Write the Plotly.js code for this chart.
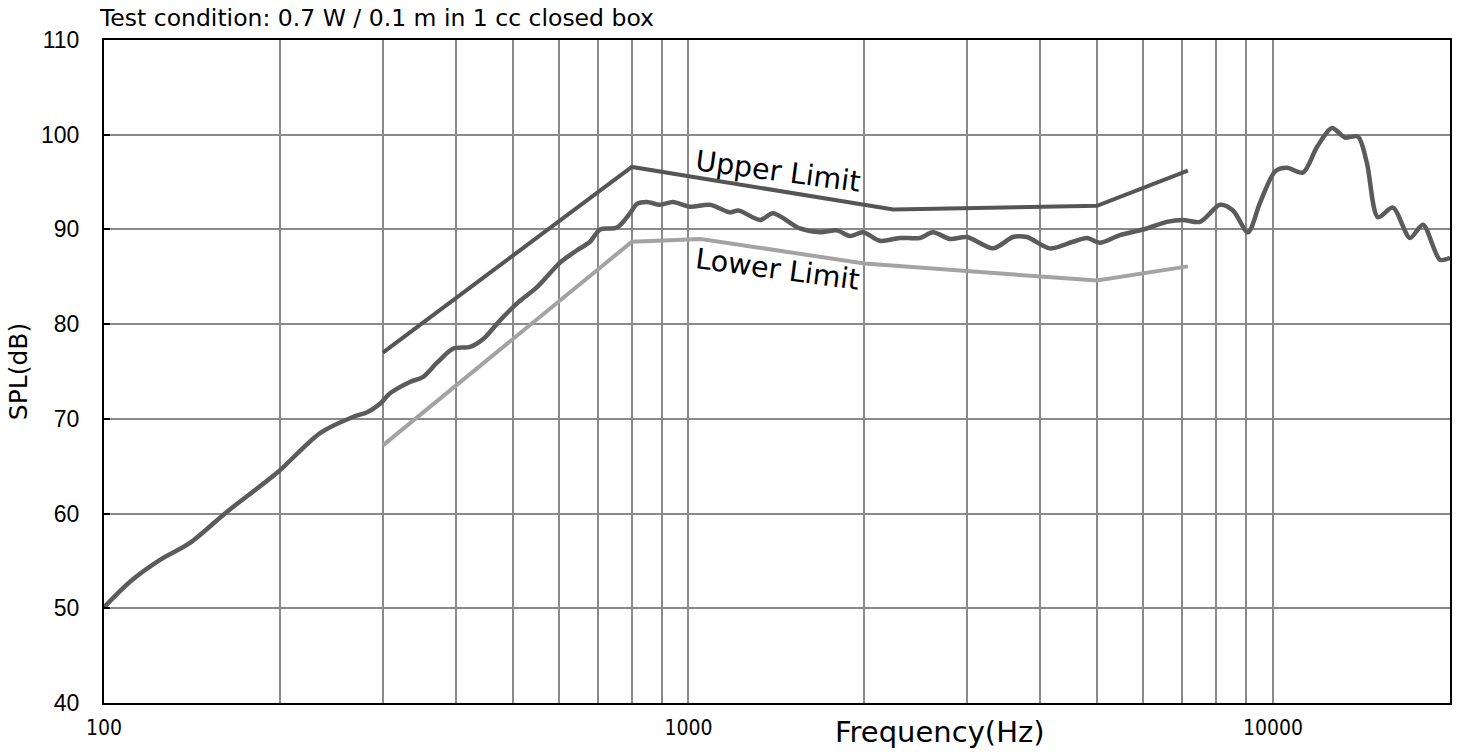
<!DOCTYPE html>
<html>
<head>
<meta charset="utf-8">
<script src="https://cdn.plot.ly/plotly-3.0.1.min.js"></script>
<style>
  html, body { margin: 0; padding: 0; background: #ffffff; }
  #chart { width: 1460px; height: 754px; }
</style>
</head>
<body>
<div id="chart"></div>
<script>
// Measured response
const respFreq = [100, 110.8, 124.7, 140.3, 162.4, 197.7, 234.2, 266.6, 282, 296.7,
  308.6, 333.8, 351, 371, 395.4, 422.9, 445, 476, 508.9, 550.7,
  602.9, 644.6, 678.6, 705.9, 754.6, 794, 816.6, 849, 894, 941,
  1006, 1088, 1177, 1218, 1326, 1395, 1551, 1679, 1795, 1889,
  1989, 2126, 2300, 2489, 2620, 2802, 2996, 3319, 3592, 3794,
  4154, 4548, 4806, 5058, 5472, 6085, 6585, 7015, 7502, 8118,
  8544, 9063, 9501, 10079, 10568, 11253, 11895, 12617, 13281, 13978,
  14481, 15122, 16041, 17157, 18056, 19307, 20094];
const respSPL = [50.1, 52.8, 55.1, 56.9, 60.2, 64.3, 68.5, 70.2, 70.7, 71.6,
  72.7, 73.9, 74.4, 75.9, 77.4, 77.6, 78.4, 80.4, 82.2, 83.9,
  86.5, 87.8, 88.7, 90.0, 90.2, 91.7, 92.7, 92.9, 92.6, 92.9,
  92.4, 92.6, 91.8, 92.0, 91.0, 91.7, 90.1, 89.7, 89.9, 89.3,
  89.7, 88.8, 89.1, 89.1, 89.7, 89.0, 89.2, 88.0, 89.2, 89.2,
  88.0, 88.7, 89.1, 88.6, 89.4, 90.1, 90.8, 91.0, 90.8, 92.6,
  92.0, 89.7, 92.8, 96.1, 96.5, 96.0, 98.7, 100.7, 99.7, 99.8,
  97.0, 91.3, 92.3, 89.1, 90.5, 86.8, 87.0];

// Tolerance limits
const upperFreq = [300, 800, 2240, 5000, 7150];
const upperSPL  = [77.0, 96.6, 92.1, 92.5, 96.2];
const lowerFreq = [300, 800, 1050, 2000, 5000, 7150];
const lowerSPL  = [67.2, 88.7, 89.0, 86.4, 84.6, 86.1];

// Axis ticks
const xTickVals = [100, 1000, 10000];
const xTickText = ['100', '1000', '10000'];
const xGridVals = [200, 300, 400, 500, 600, 700, 800, 900,
                   2000, 3000, 4000, 5000, 6000, 7000, 8000, 9000];
const yTickVals = [40, 50, 60, 70, 80, 90, 100, 110];

const traces = [
  { x: respFreq, y: respSPL, mode: 'lines', name: 'Response',
    line: { color: '#5b5b5b', width: 4.5, shape: 'spline', smoothing: 0.8 } },
  { x: upperFreq, y: upperSPL, mode: 'lines', name: 'Upper Limit',
    line: { color: '#555555', width: 4 } },
  { x: lowerFreq, y: lowerSPL, mode: 'lines', name: 'Lower Limit',
    line: { color: '#a3a3a3', width: 4 } }
];

const layout = {
  width: 1460, height: 754,
  margin: { l: 104, r: 10, t: 40, b: 51 },
  paper_bgcolor: '#ffffff', plot_bgcolor: '#ffffff',
  showlegend: false,
  font: { family: 'DejaVu Sans, sans-serif', color: '#000000' },
  title: {
    text: 'Test condition: 0.7 W / 0.1 m in 1 cc closed box',
    font: { family: 'DejaVu Sans, sans-serif', size: 23.5, color: '#000000' },
    xref: 'container', x: 100 / 1460, xanchor: 'left',
    yref: 'container', y: 1 - 18 / 754, yanchor: 'middle'
  },
  xaxis: {
    type: 'log', range: [2, 4.3029],
    tickmode: 'array', tickvals: xTickVals, ticktext: xTickText,
    tickfont: { family: 'Liberation Sans Narrow, DejaVu Sans Condensed, Arial Narrow, sans-serif', size: 21, color: '#000' },
    ticks: '', ticklabelstandoff: 5,
    showgrid: true, gridcolor: '#8a8a8a', gridwidth: 2,
    minor: { tickmode: 'array', tickvals: xGridVals, showgrid: true, gridcolor: '#8a8a8a', gridwidth: 2, ticks: '' },
    showline: true, mirror: true, linecolor: '#000000', linewidth: 2,
    zeroline: false, fixedrange: true
  },
  yaxis: {
    range: [40, 110],
    tickmode: 'array', tickvals: yTickVals,
    tickfont: { family: 'Liberation Sans, Arial, sans-serif', size: 23, color: '#000' },
    ticks: 'inside', ticklen: 6, tickwidth: 2, tickcolor: '#000000',
    ticklabelstandoff: 18,
    showgrid: true, gridcolor: '#8a8a8a', gridwidth: 2,
    showline: true, mirror: true, linecolor: '#000000', linewidth: 2,
    zeroline: false, fixedrange: true,
    title: { text: 'SPL(dB)', font: { family: 'DejaVu Sans, sans-serif', size: 25, color: '#000' }, standoff: 6 }
  },
  annotations: [
    { text: 'Frequency(Hz)', xref: 'paper', yref: 'paper',
      x: (939 - 104) / 1346, y: -(732 - 703) / 663, xanchor: 'center', yanchor: 'middle',
      showarrow: false, font: { family: 'DejaVu Sans, sans-serif', size: 29, color: '#000' } },
    { text: 'Upper Limit', xref: 'x', yref: 'y', x: 2 + 674.5 / 584.5, y: 110 - 131.5 / 9.471,
      showarrow: false, textangle: 7.6, xanchor: 'center', yanchor: 'middle',
      font: { family: 'DejaVu Sans, sans-serif', size: 28.5, color: '#000' } },
    { text: 'Lower Limit', xref: 'x', yref: 'y', x: 2 + 673.5 / 584.5, y: 110 - 229.5 / 9.471,
      showarrow: false, textangle: 7.6, xanchor: 'center', yanchor: 'middle',
      font: { family: 'DejaVu Sans, sans-serif', size: 28.5, color: '#000' } }
  ]
};

Plotly.newPlot('chart', traces, layout, { displayModeBar: false, staticPlot: true });
</script>
</body>
</html>
